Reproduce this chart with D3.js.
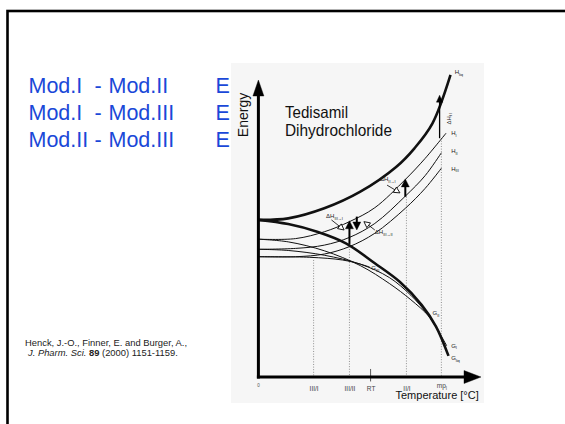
<!DOCTYPE html>
<html><head><meta charset="utf-8">
<script src="https://cdn.jsdelivr.net/npm/d3@7"></script>
<style>body{margin:0;background:#fff}svg{display:block}</style>
</head><body>
<svg id="c" width="565" height="424"></svg>
<script>
// ---------- data ----------
const rowLeft = ["Mod.I", "Mod.I", "Mod.II"];
const rowRight = ["Mod.II", "Mod.III", "Mod.III"];
const rowSymbol = ["E", "E", "E"];

const chartTitle = ["Tedisamil", "Dihydrochloride"];
const yTitle = "Energy";
const xTitle = "Temperature [°C]";
const refLine1 = "Henck, J.-O., Finner, E. and Burger, A.,";

// curves: [temperature units, energy units]
const hLiq = [[0,52.9],[13.4,53.4],[29.6,56.8],[45.8,62.4],[62.0,70.8],[70.1,77.0],[78.2,85.4],[86.3,101.7]];
const gLiq = [[0,52.9],[13.4,51.5],[26.4,48.9],[39.3,45.0],[52.3,38.3],[63.6,32.0],[73.3,24.3],[79.8,17.0],[85.4,7.1]];
const hI   = [[0,46.4],[16.7,46.6],[29.6,48.9],[40.9,52.3],[52.3,57.0],[66.0,66.5],[74.9,73.6],[84.3,82.1]];
const hII  = [[0,43.0],[16.7,43.3],[29.6,44.4],[40.9,47.0],[52.3,51.7],[66.0,60.9],[74.9,67.8],[82.2,75.5]];
const hIII = [[0,40.5],[16.7,40.5],[29.6,41.4],[40.9,43.9],[52.3,48.4],[66.0,56.8],[74.9,63.5],[82.2,70.3]];
const gI   = [[0,46.4],[13.4,45.5],[29.6,42.5],[45.8,37.5],[58.8,31.5],[68.5,26.0],[76.5,20.5],[80.6,15.8],[84.6,10.5]];
const gII  = [[0,43.0],[13.4,42.6],[29.6,41.0],[45.8,38.0],[58.8,33.5],[68.5,27.5],[75.7,21.4],[80.6,15.8]];
const gIII = [[0,40.5],[23.1,40.3],[37.7,39.4],[45.8,38.0],[50.0,37.0]];

// transition temperatures (x tick labels)
const tickLabels = ["III/I", "III/II", "RT", "II/I", "mp"];
const tickTemps  = [24.8, 40.9, 50.4, 66.5, 82.2];
const tickTops   = [39.4, 44.8, null, 60.7, 80.4];

// vertical enthalpy arrows [T, from E, to E]
const dhArrows = [[81.4, 80.4, 94.9], [40.9, 44.8, 52.6], [44.2, 54.0, 49.5], [66.0, 60.7, 66.7]];
// pointer arrows [T0,E0,T1,E1]
const pointers = [[32.8, 52.9, 38.5, 49.5], [57.8, 64.6, 63.6, 62.0], [52.3, 49.5, 47.4, 52.3]];

// curve / arrow labels: [main, subscript, T, E]
const labels = [
  ["H", "liq", 88.2, 102], ["H", "I", 86.6, 81.5], ["H", "II", 86.6, 75.3], ["H", "III", 86.6, 69.5],
  ["G", "III", 50.7, 36.0], ["G", "II", 78.2, 20.9], ["G", "I", 86.6, 9.9], ["G", "liq", 86.6, 5.7],
  ["ΔH", "III→I", 30.4, 53.5], ["ΔH", "II→I", 54.6, 66.0], ["ΔH", "III→II", 52.3, 48.0]
];

// ---------- drawing ----------
const svg = d3.select("#c");
const blue = "#1a48d8";

svg.append("rect").attr("x", 7.5).attr("y", 11).attr("width", 620).attr("height", 500)
  .attr("fill", "none").attr("stroke", "#000").attr("stroke-width", 2.6);

// scanned figure background
svg.append("rect").attr("x", 231).attr("y", 63).attr("width", 253).attr("height", 340).attr("fill", "#f6f6f6");

rowLeft.forEach((t, i) => {
  const yy = 92.5 + i * 27.3;
  const g = svg.append("g").attr("font-family", "Liberation Sans, Arial, sans-serif")
    .attr("font-size", 21.5).attr("fill", blue);
  g.append("text").attr("x", 28.5).attr("y", yy).text(t);
  g.append("text").attr("x", 94.5).attr("y", yy).text("-");
  g.append("text").attr("x", 108.5).attr("y", yy).text(rowRight[i]);
  g.append("text").attr("x", 215.5).attr("y", yy).text(rowSymbol[i]);
});

// reference
const ref = svg.append("g").attr("font-family", "Liberation Sans, Arial, sans-serif").attr("font-size", 9.4).attr("fill", "#222");
ref.append("text").attr("x", 25).attr("y", 346).text(refLine1);
const r2 = ref.append("text").attr("x", 28).attr("y", 355.5);
r2.append("tspan").attr("font-style", "italic").text("J. Pharm. Sci.");
r2.append("tspan").text(" ");
r2.append("tspan").attr("font-weight", "bold").text("89");
r2.append("tspan").text(" (2000) 1151-1159.");

const x = d3.scaleLinear().domain([0, 100]).range([258.4, 481]);
const y = d3.scaleLinear().domain([0, 100]).range([377, 80]);

const fig = svg.append("g").attr("font-family", "Liberation Sans, Arial, sans-serif").attr("opacity", 0.999);

// dotted transition lines
tickTemps.forEach((t, i) => {
  if (tickTops[i] === null) {
    fig.append("line").attr("x1", x(t)).attr("x2", x(t)).attr("y1", y(2.7)).attr("y2", y(-1.5))
      .attr("stroke", "#333").attr("stroke-width", 0.8);
  } else {
    fig.append("line").attr("x1", x(t)).attr("x2", x(t)).attr("y1", y(tickTops[i])).attr("y2", y(0))
      .attr("stroke", "#777").attr("stroke-width", 0.8).attr("stroke-dasharray", "1,1.6");
  }
});

const line = d3.line().x(d => x(d[0])).y(d => y(d[1])).curve(d3.curveCatmullRom.alpha(0.5));
[[hI,1],[hII,1],[hIII,1],[gI,1],[gII,1],[gIII,1],[hLiq,2.6],[gLiq,2.6]].forEach(([d, w]) => {
  fig.append("path").attr("d", line(d)).attr("fill", "none").attr("stroke", "#111").attr("stroke-width", w);
});

function head(g, x1, y1, ang, len, half, hollow) {
  const bx = x1 - len * Math.cos(ang), by = y1 - len * Math.sin(ang);
  const px = -Math.sin(ang) * half, py = Math.cos(ang) * half;
  g.append("path").attr("d", `M${x1},${y1}L${bx + px},${by + py}L${bx - px},${by - py}Z`)
    .attr("fill", hollow ? "#fff" : "#000").attr("stroke", "#000").attr("stroke-width", hollow ? 0.9 : 0.4);
}

// enthalpy arrows
dhArrows.forEach(([t, e0, e1], i) => {
  const X = x(t), Y0 = y(e0), Y1 = y(e1);
  const dir = Y1 < Y0 ? -1 : 1;
  const hl = i === 0 ? 7 : 8, hw = i === 0 ? 3.2 : 4;
  fig.append("line").attr("x1", X).attr("x2", X).attr("y1", Y0).attr("y2", Y1 - dir * hl * 0.8)
    .attr("stroke", "#000").attr("stroke-width", i === 0 ? 1.3 : 2);
  head(fig, X, Y1, dir < 0 ? -Math.PI / 2 : Math.PI / 2, hl, hw, false);
});

pointers.forEach(([t0, e0, t1, e1]) => {
  const X0 = x(t0), Y0 = y(e0), X1 = x(t1), Y1 = y(e1);
  const ang = Math.atan2(Y1 - Y0, X1 - X0);
  fig.append("line").attr("x1", X0).attr("y1", Y0).attr("x2", X1 - 5 * Math.cos(ang)).attr("y2", Y1 - 5 * Math.sin(ang))
    .attr("stroke", "#000").attr("stroke-width", 0.8);
  head(fig, X1, Y1, ang, 6, 3, true);
});

// axes
fig.append("line").attr("x1", x(0)).attr("x2", x(0)).attr("y1", y(0) + 1.5).attr("y2", y(100) + 12)
  .attr("stroke", "#000").attr("stroke-width", 3);
head(fig, x(0), y(100), -Math.PI / 2, 16, 5.5, false);
fig.append("line").attr("x1", x(0) - 1.5).attr("x2", x(100) - 12).attr("y1", y(0)).attr("y2", y(0))
  .attr("stroke", "#000").attr("stroke-width", 3);
head(fig, x(100), y(0), 0, 17, 6.5, false);

const ax = fig.append("g").attr("transform", `translate(0,${y(0)})`)
  .call(d3.axisBottom(x).tickValues(tickTemps).tickFormat((d, i) => tickLabels[i]).tickSize(0).tickPadding(9.5));
ax.select(".domain").remove();
ax.selectAll("text").attr("font-size", 6.5).attr("fill", "#444").attr("font-family", "Liberation Sans, Arial, sans-serif");
ax.selectAll("text").filter((d, i) => i === 4).attr("dy", "0.3em").append("tspan").attr("font-size", 4.5).attr("dy", 1.5).text("I");
fig.append("text").attr("x", x(0)).attr("y", y(0) + 10).attr("font-size", 4.5).attr("text-anchor", "middle").attr("fill", "#555").text("0");

fig.append("text").attr("x", 395.5).attr("y", 398.5).attr("font-size", 11).attr("fill", "#111").text(xTitle);
fig.append("text").attr("transform", "translate(248,115) rotate(-90)").attr("text-anchor", "middle")
  .attr("font-size", 14).attr("fill", "#111").text(yTitle);

chartTitle.forEach((t, i) => {
  fig.append("text").attr("x", 285).attr("y", 118 + i * 17.5).attr("font-size", 16.5).attr("fill", "#111")
    .attr("textLength", i === 0 ? 63 : 107).attr("lengthAdjust", "spacingAndGlyphs").text(t);
});

// labels
labels.forEach(([m, s, t, e]) => {
  const tx = fig.append("text").attr("x", x(t)).attr("y", y(e)).attr("font-size", 6).attr("fill", "#222");
  tx.append("tspan").text(m);
  tx.append("tspan").attr("font-size", 4).attr("dy", 1.6).text(s);
});
// ΔH_f rotated
const dhf = fig.append("text").attr("transform", `translate(${x(86.3)},${y(85)}) rotate(-90)`).attr("font-size", 6).attr("fill", "#222");
dhf.append("tspan").text("ΔH");
dhf.append("tspan").attr("font-size", 4).attr("dy", 1.6).text("f I");
</script>
</body></html>
